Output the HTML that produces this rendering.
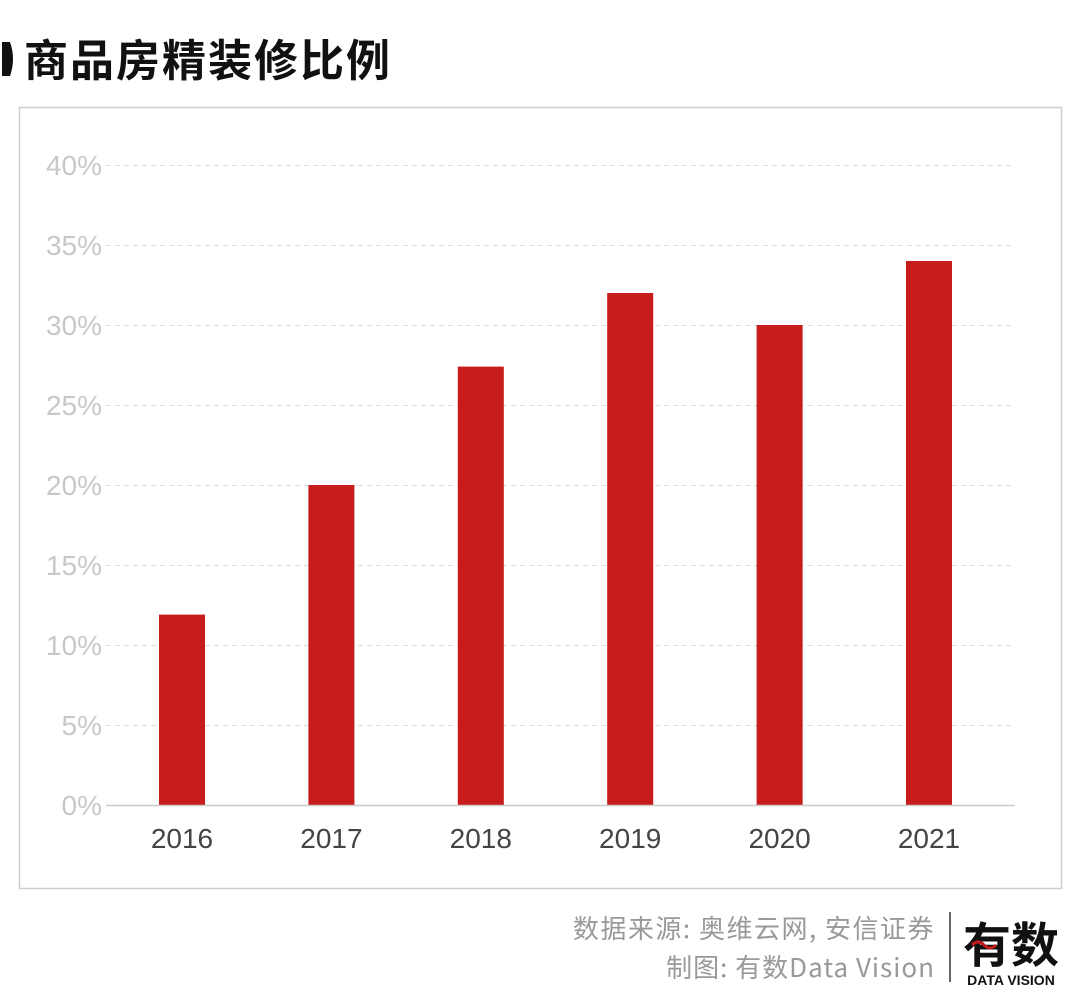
<!DOCTYPE html>
<html><head><meta charset="utf-8"><style>
body{margin:0;width:1080px;height:1002px;background:#fff;overflow:hidden;font-family:"Liberation Sans","Noto Sans CJK SC",sans-serif;}
</style></head><body>
<svg width="1080" height="1002" xmlns="http://www.w3.org/2000/svg">
<path d="M2,42 L10,42 Q16,59 10,76 L2,76 Z" fill="#111"/>
<text x="24" y="76" font-size="44" font-weight="bold" fill="#111" letter-spacing="2" font-family="Noto Sans CJK SC, sans-serif">商品房精装修比例</text>
<rect x="19.5" y="107.5" width="1042" height="781" fill="none" stroke="#cfcfcf" stroke-width="1.5"/>
<g id="grid"></g><g id="bars"></g><g id="xl"></g>
<line x1="106" y1="805.5" x2="1015" y2="805.5" stroke="#ccc" stroke-width="1.5"/>
<text x="935" y="938" font-size="26" fill="#999" text-anchor="end" letter-spacing="1.5" font-family="Noto Sans CJK SC, sans-serif">数据来源: 奥维云网, 安信证券</text>
<text x="935" y="977" font-size="26" fill="#999" text-anchor="end" letter-spacing="1" font-family="Noto Sans CJK SC, sans-serif">制图: 有数Data Vision</text>
<line x1="950" y1="912" x2="950" y2="982" stroke="#333" stroke-width="1.5"/>
<text x="1011" y="962" font-size="48" font-weight="bold" fill="#111" text-anchor="middle" font-family="Noto Sans CJK SC, sans-serif">有数</text>
<path d="M972,945 q6,-6 12,0 q6,6 12,0" stroke="#c21a1a" stroke-width="3" fill="none"/>
<text x="1011" y="985" font-size="14" font-weight="bold" fill="#111" text-anchor="middle">DATA VISION</text>
</svg>
<script>
const categories=["2016","2017","2018","2019","2020","2021"];
const values=[11.9,20,27.4,32,30,34];
const ticks=[0,5,10,15,20,25,30,35,40];
const NS="http://www.w3.org/2000/svg";
const y=v=>805-v*16;
const x=i=>182+i*149.4;
function mk(t,a,p){const e=document.createElementNS(NS,t);for(const k in a)e.setAttribute(k,a[k]);document.getElementById(p).appendChild(e);return e;}
ticks.forEach(t=>{
 if(t>0){const l=mk('line',{x1:106,x2:1015,y1:y(t)+0.5,y2:y(t)+0.5,stroke:'#ddd','stroke-dasharray':'5,4'},'grid');
 
 }
 const tx=mk('text',{x:102,y:y(t)+10,'font-size':28,fill:'#c8c8c8','text-anchor':'end'},'grid');tx.textContent=t+'%';
 
 
});
categories.forEach((c,i)=>{
 const r=mk('rect',{x:x(i)-23,y:y(values[i]),width:46,height:805-y(values[i]),fill:'#c81b1b'},'bars');
 
 
 const t=mk('text',{x:x(i),y:848,'font-size':28,fill:'#444','text-anchor':'middle'},'xl');t.textContent=c;
 
 
});
</script>
</body></html>
